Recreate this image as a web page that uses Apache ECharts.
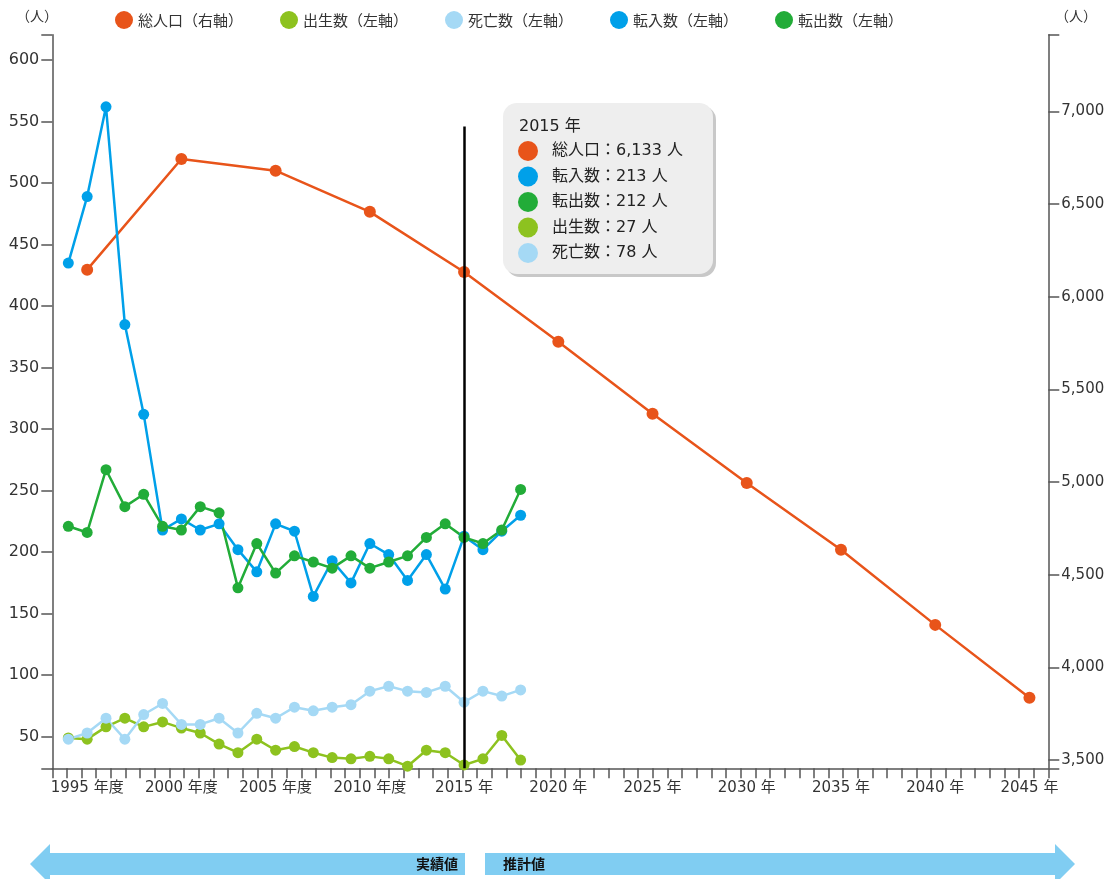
<!DOCTYPE html>
<html>
<head>
<meta charset="utf-8">
<script src="https://cdn.jsdelivr.net/npm/echarts@6/dist/echarts.min.js"></script>
<style>
html,body{margin:0;padding:0;background:#fff;}
#chart{width:1112px;height:879px;}
</style>
</head>
<body>
<div id="chart"></div>
<script>
// ---- data ----
const flowYears = [1994,1995,1996,1997,1998,1999,2000,2001,2002,2003,2004,2005,2006,2007,2008,2009,2010,2011,2012,2013,2014,2015,2016,2017,2018];
const births   = [49,48,58,65,58,62,57,53,44,37,48,39,42,37,33,32,34,32,26,39,37,27,32,51,31];
const deaths   = [48,53,65,48,68,77,60,60,65,53,69,65,74,71,74,76,87,91,87,86,91,78,87,83,88];
const moveIn   = [435,489,562,385,312,218,227,218,223,202,184,223,217,164,193,175,207,198,177,198,170,213,202,217,230];
const moveOut  = [221,216,267,237,247,221,218,237,232,171,207,183,197,192,187,197,187,192,197,212,223,212,207,218,251];
const popYears = [1995,2000,2005,2010,2015,2020,2025,2030,2035,2040,2045];
const population = [6146,6743,6680,6458,6133,5757,5368,4995,4634,4229,3836];
const xLabelYears = [1995,2000,2005,2010,2015,2020,2025,2030,2035,2040,2045];
const leftTicks  = [50,100,150,200,250,300,350,400,450,500,550,600];
const rightTicks = [3500,4000,4500,5000,5500,6000,6500,7000];
const focusYear = 2015;

const names = {
  pop: '総人口（右軸）', birth: '出生数（左軸）', death: '死亡数（左軸）',
  inn: '転入数（左軸）', out: '転出数（左軸）'
};
const colors = {pop:'#E8541A', birth:'#8DC21F', death:'#A5D9F5', inn:'#00A0E9', out:'#22AC38'};

// axis ranges
const X_MIN = 1993.15, X_MAX = 2046.0;
const L_MIN = 24.3, L_MAX = 620.6;
const R_MIN = 3455, R_MAX = 7414;
const MARK_TOP = 546;

const xTicks = [];
for (let i = 0; i <= 68; i++) xTicks.push(X_MIN + (X_MAX - X_MIN) * i / 68);

const FONT = "'DejaVu Sans','Noto Sans CJK JP',sans-serif";
const JFONT = "'Noto Sans CJK JP',sans-serif";
const axisColor = '#555';

function pairs(xs, ys){ return xs.map((x,i)=>[x, ys[i]]); }

const chart = echarts.init(document.getElementById('chart'), null, {renderer:'canvas'});

function flowSeries(key, vals, extra){
  return Object.assign({
    name: names[key], type:'line', yAxisIndex:0,
    data: pairs(flowYears, vals),
    symbol:'circle', symbolSize:11,
    lineStyle:{width:2.5, color:colors[key]},
    itemStyle:{color:colors[key]},
    emphasis:{disabled:true}
  }, extra||{});
}

// tooltip box built from data
const fi = flowYears.indexOf(focusYear);
const pi = popYears.indexOf(focusYear);
const tipRows = [
  ['総人口', population[pi], colors.pop],
  ['転入数', moveIn[fi], colors.inn],
  ['転出数', moveOut[fi], colors.out],
  ['出生数', births[fi], colors.birth],
  ['死亡数', deaths[fi], colors.death]
];
const tipChildren = [
  {type:'rect', shape:{x:3,y:3,width:210,height:171,r:14}, style:{fill:'#c8c8c8'}},
  {type:'rect', shape:{x:0,y:0,width:210,height:171,r:14}, style:{fill:'#eeeeee'}},
  {type:'text', x:16, y:24, style:{text: focusYear + ' 年', font:'16px ' + FONT, fill:'#222', verticalAlign:'middle'}}
];
tipRows.forEach((r, i) => {
  const cy = 48 + i * 25.5;
  tipChildren.push({type:'circle', shape:{cx:25, cy:cy, r:10}, style:{fill:r[2]}});
  tipChildren.push({type:'text', x:49, y:cy, style:{text: r[0] + '：' + r[1].toLocaleString('en-US') + ' 人', font:'16px ' + FONT, fill:'#222', verticalAlign:'middle'}});
});

const arrowColor = '#80CDF2';

const option = {
  animation:false,
  backgroundColor:'#fff',
  legend:{
    top:6, left:110, itemWidth:18, itemHeight:18, itemGap:37, icon:'circle',
    textStyle:{fontSize:15, color:'#333', fontFamily:JFONT},
    data:[names.pop, names.birth, names.death, names.inn, names.out]
  },
  grid:{left:52.3, right:63.7, top:34.7, bottom:110.7, containLabel:false},
  xAxis:{
    type:'value', min:X_MIN, max:X_MAX,
    axisLine:{show:true, lineStyle:{color:axisColor, width:1.5}},
    axisTick:{show:true, length:10, lineStyle:{color:axisColor, width:1.5}, customValues:xTicks},
    axisLabel:{customValues:xLabelYears, margin:12, fontSize:15, color:'#333', fontFamily:FONT,
      formatter:v => v <= 2010 ? v + ' 年度' : v + ' 年'},
    splitLine:{show:false}
  },
  yAxis:[
    {type:'value', min:L_MIN, max:L_MAX, position:'left',
     axisLine:{show:true, lineStyle:{color:axisColor, width:1.5}},
     axisTick:{show:true, length:11, lineStyle:{color:axisColor, width:1.5}, customValues:[L_MIN].concat(leftTicks, [L_MAX])},
     axisLabel:{customValues:leftTicks, margin:13, fontSize:16, color:'#333', fontFamily:FONT},
     splitLine:{show:false}},
    {type:'value', min:R_MIN, max:R_MAX, position:'right',
     axisLine:{show:true, lineStyle:{color:axisColor, width:1.5}},
     axisTick:{show:true, length:11, lineStyle:{color:axisColor, width:1.5}, customValues:[R_MIN].concat(rightTicks, [R_MAX])},
     axisLabel:{customValues:rightTicks, margin:13, fontSize:15, color:'#333', fontFamily:FONT,
       formatter:v => v.toLocaleString('en-US')},
     splitLine:{show:false}}
  ],
  series:[
    {name:names.pop, type:'line', yAxisIndex:1, data:pairs(popYears, population),
     symbol:'circle', symbolSize:12, lineStyle:{width:2.5, color:colors.pop}, itemStyle:{color:colors.pop},
     emphasis:{disabled:true}, z:3},
    flowSeries('birth', births),
    flowSeries('death', deaths),
    flowSeries('inn', moveIn, {
      markLine:{silent:true, symbol:['none','none'], label:{show:false},
        lineStyle:{color:'#000', width:2.5, type:'solid'},
        data:[[{coord:[focusYear, MARK_TOP]}, {coord:[focusYear, L_MIN]}]]}
    }),
    flowSeries('out', moveOut)
  ],
  graphic:[
    {type:'text', left:16, top:9, style:{text:'（人）', font:'14px ' + JFONT, fill:'#333'}},
    {type:'text', left:1055, top:9, style:{text:'（人）', font:'14px ' + JFONT, fill:'#333'}},
    {type:'group', left:503, top:103, children:tipChildren},
    {type:'polygon', shape:{points:[[30,864],[50,844],[50,853],[465,853],[465,875],[50,875],[50,884]]}, style:{fill:arrowColor}},
    {type:'polygon', shape:{points:[[485,853],[1055,853],[1055,844],[1075,864],[1055,884],[1055,875],[485,875]]}, style:{fill:arrowColor}},
    {type:'text', x:458, y:864, style:{text:'実績値', font:'bold 14px ' + JFONT, fill:'#111', align:'right', verticalAlign:'middle'}},
    {type:'text', x:503, y:864, style:{text:'推計値', font:'bold 14px ' + JFONT, fill:'#111', align:'left', verticalAlign:'middle'}}
  ]
};
chart.setOption(option);
</script>
</body>
</html>
